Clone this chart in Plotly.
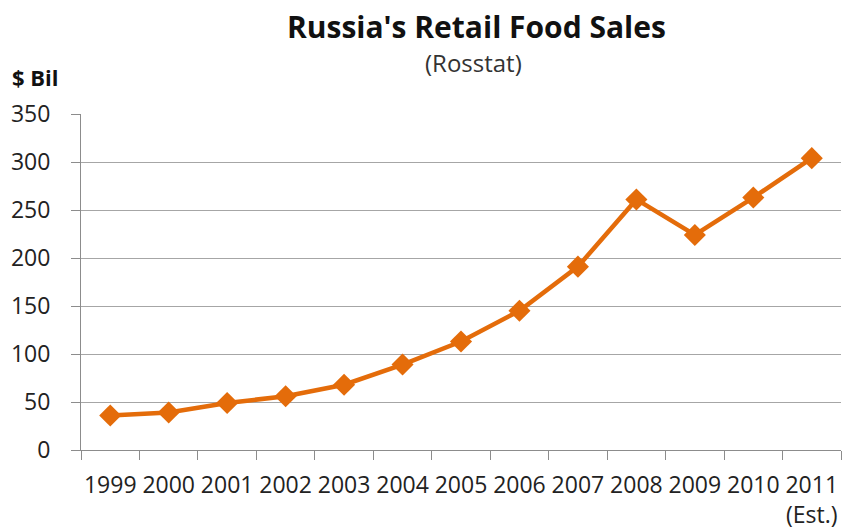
import plotly.graph_objects as go

# Russia's retail food sales, $ billions (2011 is an estimate)
years = ["1999", "2000", "2001", "2002", "2003", "2004", "2005",
         "2006", "2007", "2008", "2009", "2010", "2011"]
sales = [36, 39, 49, 56, 68, 89, 113, 145, 191, 261, 224, 263, 304]
year_labels = years[:-1] + ["2011<br>(Est.)"]
y_ticks = [0, 50, 100, 150, 200, 250, 300, 350]

ORANGE = "#E46C0A"
GRID = "#A6A6A6"
AXIS = "#8C8C8C"
FONT = "Open Sans, Liberation Sans, sans-serif"

fig = go.Figure(
    go.Scatter(
        x=years,
        y=sales,
        mode="lines+markers",
        line=dict(color=ORANGE, width=4.5),
        marker=dict(symbol="diamond", size=17, color=ORANGE),
        hoverinfo="x+y",
    )
)

fig.update_layout(
    width=843,
    height=529,
    margin=dict(l=81, r=2, t=114, b=79, autoexpand=False),
    paper_bgcolor="white",
    plot_bgcolor="white",
    showlegend=False,
    font=dict(family=FONT, color="#222222"),
    annotations=[
        dict(text="<b>Russia's Retail Food Sales</b>", xref="paper", yref="paper",
             x=(477 - 81) / 761, y=(450 - 26) / 336, xanchor="center", yanchor="middle",
             showarrow=False, font=dict(size=30, color="#111111")),
        dict(text="(Rosstat)", xref="paper", yref="paper",
             x=(474 - 81) / 761, y=(450 - 62) / 336, xanchor="center", yanchor="middle",
             showarrow=False, font=dict(size=24, color="#333333")),
        dict(text="<b>$ Bil</b>", xref="paper", yref="paper",
             x=(35 - 81) / 761, y=(450 - 77) / 336, xanchor="center", yanchor="middle",
             showarrow=False, font=dict(size=22, color="#111111")),
    ],
)

fig.update_xaxes(
    type="category",
    tickmode="array",
    tickvals=years,
    ticktext=year_labels,
    range=[-0.5, len(years) - 0.5],
    showgrid=False,
    showline=True,
    linecolor=AXIS,
    linewidth=1,
    ticks="outside",
    tickson="boundaries",
    ticklen=9,
    tickcolor=AXIS,
    tickangle=0,
    automargin=False,
    tickfont=dict(size=23, color="#222222"),
    ticklabelstandoff=14,
    fixedrange=True,
)

fig.update_yaxes(
    range=[0, 350],
    tickmode="array",
    tickvals=y_ticks,
    showgrid=True,
    gridcolor=GRID,
    gridwidth=1,
    zeroline=False,
    showline=True,
    linecolor=AXIS,
    linewidth=1,
    ticks="outside",
    ticklen=9,
    tickcolor=AXIS,
    automargin=False,
    tickfont=dict(size=23, color="#222222"),
    ticklabelstandoff=16,
    fixedrange=True,
)

fig.write_html("out.html", config={"displayModeBar": False})
